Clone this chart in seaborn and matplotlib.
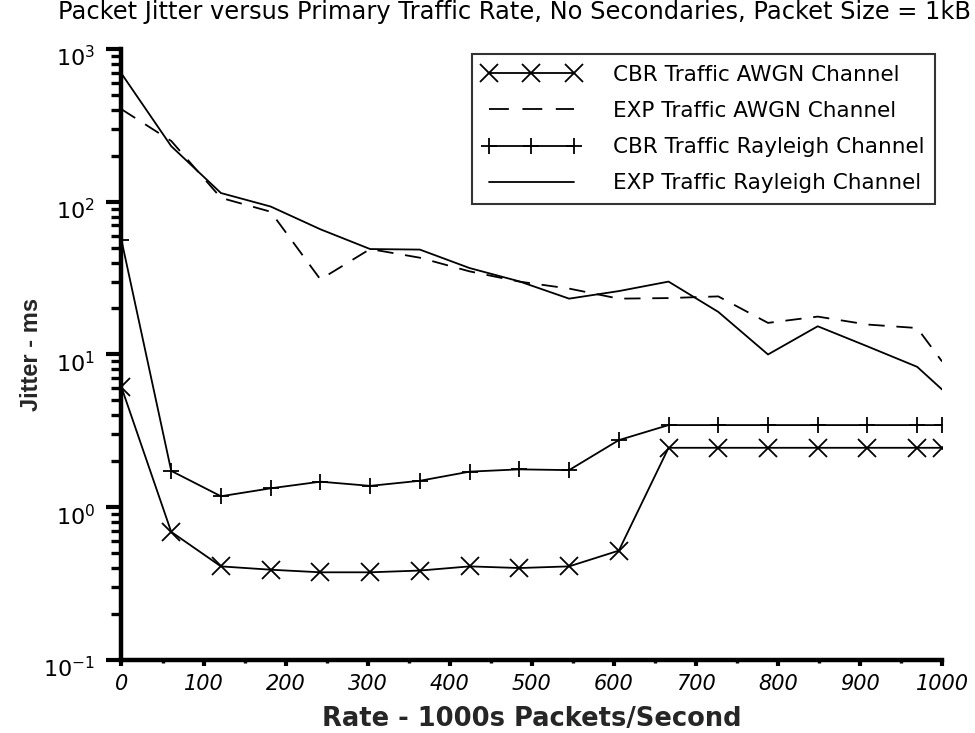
import matplotlib
matplotlib.use("Agg")
import matplotlib.pyplot as plt
import matplotlib.transforms as mtransforms
from matplotlib import font_manager as fm
from matplotlib.ticker import FixedLocator, LogLocator, MultipleLocator
import seaborn as sns
import pandas as pd

# Offered rate (1000s packets/second)
rate = [0, 60.6, 121.2, 181.8, 242.4, 303.0, 363.6, 424.2, 484.8,
        545.5, 606.1, 666.7, 727.3, 787.9, 848.5, 909.1, 969.7, 1000]

# Packet jitter (ms) for each traffic / channel combination
cbr_awgn = [6.1, 0.69, 0.41, 0.39, 0.375, 0.375, 0.385, 0.41, 0.40,
            0.41, 0.52, 2.45, 2.45, 2.45, 2.45, 2.45, 2.45, 2.45]
exp_awgn = [403, 250, 106, 86, 31, 49, 43, 35, 30,
            27, 23.2, 23.4, 24, 16.1, 17.7, 15.7, 14.9, 9.0]
cbr_rayleigh = [56, 1.73, 1.18, 1.33, 1.47, 1.38, 1.49, 1.71, 1.77,
                1.75, 2.75, 3.45, 3.45, 3.45, 3.45, 3.45, 3.45, 3.45]
exp_rayleigh = [690, 231, 114, 93, 66, 49, 48.6, 36.8, 30.1,
                23.2, 26, 30, 19, 10, 15.3, 11.3, 8.3, 5.9]

series_names = ["CBR Traffic AWGN Channel", "EXP Traffic AWGN Channel",
                "CBR Traffic Rayleigh Channel", "EXP Traffic Rayleigh Channel"]

title_text = "Packet Jitter versus Primary Traffic Rate, No Secondaries, Packet Size = 1kB"
x_label = "Rate - 1000s Packets/Second"
y_label = "Jitter - ms"
x_ticks = [0, 100, 200, 300, 400, 500, 600, 700, 800, 900, 1000]
y_ticks = [0.1, 1, 10, 100, 1000]

df = pd.DataFrame({
    "rate": rate * 4,
    "jitter": cbr_awgn + exp_awgn + cbr_rayleigh + exp_rayleigh,
    "series": [n for n in series_names for _ in rate],
})

sns.set_theme(style="ticks")
plt.rcParams["font.family"] = ["DejaVu Sans"]

fig = plt.figure(figsize=(9.75, 7.33), dpi=100)
ax = fig.add_axes([0.1246, 0.0996, 0.9662 - 0.1246, 0.9332 - 0.0996])

styles = {
    "CBR Traffic AWGN Channel": dict(marker="x", markersize=13, linestyle="-"),
    "EXP Traffic AWGN Channel": dict(marker=None, linestyle=(0, (9, 6.5))),
    "CBR Traffic Rayleigh Channel": dict(marker="+", markersize=12, linestyle="-"),
    "EXP Traffic Rayleigh Channel": dict(marker=None, linestyle="-"),
}

for name in series_names:
    sub = df[df["series"] == name]
    st = styles[name]
    kw = dict(color="black", linewidth=1.3, linestyle=st["linestyle"])
    if st["marker"]:
        kw.update(marker=st["marker"], markersize=st["markersize"],
                  markeredgewidth=1.3, markeredgecolor="black")
    sns.lineplot(data=sub, x="rate", y="jitter", ax=ax, label=name,
                 sort=False, estimator=None, errorbar=None, **kw)

ax.set_yscale("log")
ax.set_xlim(0, 1000)
ax.set_ylim(0.1, 1000)

# Axes frame: heavy left / bottom spines only
for side in ("top", "right"):
    ax.spines[side].set_visible(False)
for side in ("left", "bottom"):
    ax.spines[side].set_linewidth(3.2)
    ax.spines[side].set_color("black")

ax.yaxis.set_major_locator(FixedLocator(y_ticks))
ax.yaxis.set_minor_locator(LogLocator(base=10, subs=range(2, 10)))
ax.xaxis.set_major_locator(FixedLocator(x_ticks))
ax.xaxis.set_minor_locator(MultipleLocator(50))

ax.tick_params(axis="y", which="major", direction="out", length=11, width=3,
               color="black", pad=8, labelsize=16, labelcolor="black")
ax.tick_params(axis="y", which="minor", direction="out", length=7, width=2.4,
               color="black")
ax.tick_params(axis="x", which="major", direction="out", length=4, width=3,
               color="black", pad=6, labelcolor="black")
ax.tick_params(axis="x", which="minor", direction="out", length=2.5, width=2.4,
               color="black")

# x tick labels in a narrow oblique face when available
installed = {f.name for f in fm.fontManager.ttflist}
if "Liberation Sans Narrow" in installed:
    xfam, xsize = "Liberation Sans Narrow", 19
else:
    xfam, xsize = "DejaVu Sans", 15
ax.set_xticks(x_ticks)
ax.set_xticklabels([str(v) for v in x_ticks], family=xfam, size=xsize,
                   style="italic")

# nudge the power-of-ten labels slightly below their ticks
shift = mtransforms.ScaledTranslation(0, -5 / 72, fig.dpi_scale_trans)
for lab in ax.get_yticklabels():
    lab.set_transform(lab.get_transform() + shift)

ax.set_xlabel(x_label, fontsize=18.5, fontweight="bold", family="DejaVu Sans")
ax.xaxis.label.set_va("center")
ax.xaxis.set_label_coords(0.5, -0.096)
ax.set_ylabel(y_label, fontsize=17, fontweight="bold", family="Liberation Sans")
ax.yaxis.label.set_va("center")
ax.yaxis.set_label_coords(-0.11, 0.5)

fig.text(58 / 975, 1 - 12 / 733, title_text, ha="left", va="center",
         fontsize=17.4, color="black")

leg = ax.legend(loc="upper right", bbox_to_anchor=(935 / 975, 1 - 54 / 733),
                bbox_transform=fig.transFigure, borderaxespad=0,
                frameon=True, fancybox=False, numpoints=3, handlelength=4.55,
                handletextpad=1.5, labelspacing=0.75, borderpad=0.5,
                fontsize=15.5)
leg.get_frame().set_edgecolor("black")
leg.get_frame().set_linewidth(1.5)
for txt in leg.get_texts():
    txt.set_color("black")
# three even dashes in the dashed legend key
leg.get_lines()[1].set_linestyle((0, (11, 7.5)))

ax.grid(False)
ax.set_facecolor("white")
fig.patch.set_facecolor("white")
fig.savefig("out.png", dpi=100, facecolor="white")
